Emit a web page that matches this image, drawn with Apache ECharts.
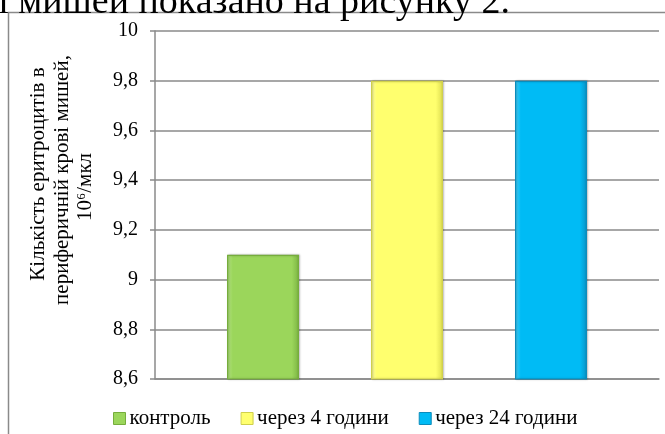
<!DOCTYPE html>
<html>
<head>
<meta charset="utf-8">
<script src="https://cdn.jsdelivr.net/npm/echarts@6/dist/echarts.min.js"></script>
<style>
  html, body { margin: 0; padding: 0; background: #fff; }
  #chart { width: 665px; height: 434px; }
</style>
</head>
<body>
<div id="chart"></div>
<script>
// Erythrocyte counts in peripheral blood of mice, 10^6/мкл
const categories = [''];
const seriesNames = ['контроль', 'через 4 години', 'через 24 години'];
const seriesValues = [[9.1], [9.8], [9.8]];
const yTicks = { min: 8.6, max: 10, interval: 0.2 };
const yTitleLines = ['Кількість еритроцитів в', 'периферичній крові мишей,', '10⁶/мкл'];

const fills = ['#9bd65b', '#ffff6e', '#00bbf5'];
const lights = ['#b8e888', '#ffffa8', '#4fd6ff'];
const darks = ['#7cb443', '#dcdc50', '#0a92c4'];
const edges = ['#76ad3c', '#d0d04c', '#0a8cbc'];
const serif = 'Liberation Serif';

// Bevelled bar fill: light left edge, dark right edge
function bevel(i) {
  return new echarts.graphic.LinearGradient(0, 0, 1, 0, [
    { offset: 0, color: lights[i] },
    { offset: 0.08, color: fills[i] },
    { offset: 0.9, color: fills[i] },
    { offset: 1, color: darks[i] }
  ]);
}

// Rotated title lines: [centre x, centre y]
const titlePos = [[38, 174], [62, 180], [85, 187]];

const chart = echarts.init(document.getElementById('chart'), null, { renderer: 'canvas' });

chart.setOption({
  animation: false,
  textStyle: { fontFamily: serif },
  graphic: [
    {
      type: 'rect',
      shape: { x: 8.5, y: 12.5, width: 700, height: 500 },
      style: { fill: 'none', stroke: '#8a8a8a', lineWidth: 1.5 },
      z: -1
    },
    {
      type: 'text',
      x: 510, y: 3,
      style: {
        text: 'крові мишей показано на рисунку 2.',
        font: '38px "Liberation Serif"',
        fill: '#000',
        align: 'right',
        verticalAlign: 'middle'
      }
    }
  ].concat(yTitleLines.map((line, k) => ({
    type: 'text',
    x: titlePos[k][0],
    y: titlePos[k][1],
    rotation: Math.PI / 2,
    style: {
      text: line,
      font: '21px "Liberation Serif"',
      fill: '#000',
      align: 'center',
      verticalAlign: 'middle'
    }
  }))),
  grid: { left: 155, right: 6, top: 31, bottom: 55, containLabel: false },
  legend: {
    left: 108,
    top: 403,
    itemWidth: 12,
    itemHeight: 12,
    itemGap: 30,
    icon: 'rect',
    textStyle: { fontFamily: serif, fontSize: 21, color: '#000', padding: [0, 0, 0, -1] },
    data: seriesNames.map((name, i) => ({
      name,
      itemStyle: { color: bevel(i), borderColor: edges[i], borderWidth: 1 }
    }))
  },
  xAxis: {
    type: 'category',
    data: categories,
    axisLine: { lineStyle: { color: '#8a8a8a', width: 1.5 } },
    axisTick: { show: false },
    axisLabel: { show: false }
  },
  yAxis: {
    type: 'value',
    min: yTicks.min,
    max: yTicks.max,
    interval: yTicks.interval,
    axisLine: { show: true, lineStyle: { color: '#8a8a8a', width: 1.5 } },
    axisTick: { show: true, length: 5, lineStyle: { color: '#8a8a8a', width: 1.5 } },
    splitLine: { lineStyle: { color: '#8a8a8a', width: 1.5 } },
    axisLabel: {
      fontFamily: serif,
      fontSize: 20,
      color: '#000',
      margin: 17,
      formatter: v => String(Math.round(v * 10) / 10).replace('.', ',')
    }
  },
  series: seriesNames.map((name, i) => ({
    name,
    type: 'bar',
    data: seriesValues[i],
    barWidth: 72,
    barGap: '100%',
    itemStyle: {
      color: bevel(i),
      borderColor: edges[i],
      borderWidth: 1.2,
      shadowColor: 'rgba(0,0,0,0.25)',
      shadowBlur: 2,
      shadowOffsetX: 1,
      shadowOffsetY: 0
    }
  }))
});
</script>
</body>
</html>
